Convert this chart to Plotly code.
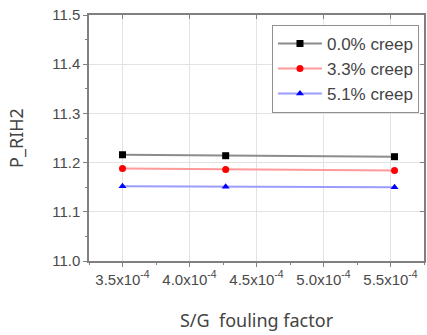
import plotly.graph_objects as go

fouling = [3.5e-4, 4.27e-4, 5.53e-4]
creep_00 = [11.216, 11.214, 11.212]
creep_33 = [11.188, 11.186, 11.184]
creep_51 = [11.152, 11.151, 11.150]
names = ["0.0% creep", "3.3% creep", "5.1% creep"]
tick_vals = [3.5e-4, 4.0e-4, 4.5e-4, 5.0e-4, 5.5e-4]
tick_text = ["3.5x10<sup>-4</sup>", "4.0x10<sup>-4</sup>", "4.5x10<sup>-4</sup>",
             "5.0x10<sup>-4</sup>", "5.5x10<sup>-4</sup>"]

fig = go.Figure()
styles = [
    (creep_00, "#8c8c8c", "black", "square"),
    (creep_33, "#ff9a9a", "red", "circle"),
    (creep_51, "#9c9cff", "blue", "triangle-up"),
]
for (ys, lc, mc, sym), nm in zip(styles, names):
    fig.add_trace(go.Scatter(
        x=fouling, y=ys, name=nm, mode="lines+markers",
        line=dict(color=lc, width=2),
        marker=dict(color=mc, symbol=sym, size=7),
    ))
# invisible trace to activate mirrored inside-tick axes
fig.add_trace(go.Scatter(x=fouling, y=creep_00, xaxis="x2", yaxis="y2", mode="markers",
                         marker=dict(opacity=0), showlegend=False, hoverinfo="skip"))

tick_font = dict(family="Arial, Liberation Sans", size=15, color="#4a4a4a")
axis_common = dict(
    showline=True, linecolor="#808080", linewidth=1.5, mirror=True,
    ticks="outside", tickcolor="#808080", ticklen=4,
    showgrid=True, gridcolor="#e3e3e3", gridwidth=1, zeroline=False,
    tickfont=tick_font, automargin=False,
)
fig.update_layout(
    xaxis=dict(
        range=[3.25e-4, 5.75e-4], tickvals=tick_vals, ticktext=tick_text,
        minor=dict(ticks="outside", ticklen=2, tickcolor="#808080", dtick=0.25e-4, tick0=3.25e-4, showgrid=False),
        title=dict(text="S/G  fouling factor", font=dict(family="Noto Sans", size=18, color="#444444"), standoff=28),
        **axis_common,
    ),
    yaxis=dict(
        range=[11.0, 11.5], dtick=0.1, tickformat=".1f",
        minor=dict(ticks="outside", ticklen=2, tickcolor="#808080", dtick=0.05, showgrid=False),
        title=dict(text="P_RIH2", font=dict(family="Noto Sans", size=18, color="#444444"), standoff=24),
        **axis_common,
    ),
    xaxis2=dict(overlaying="x", side="top", range=[3.25e-4, 5.75e-4], ticks="inside", ticklen=4,
                tickcolor="#808080", tickvals=tick_vals, showticklabels=False,
                showgrid=False, showline=False, zeroline=False, automargin=False),
    yaxis2=dict(overlaying="y", side="right", range=[11.0, 11.5], ticks="inside", ticklen=4,
                tickcolor="#808080", dtick=0.1, showticklabels=False,
                showgrid=False, showline=False, zeroline=False, automargin=False),
    width=427, height=335,
    margin=dict(l=89, r=3, t=15, b=74),
    plot_bgcolor="white", paper_bgcolor="white",
    legend=dict(
        x=0.985, y=0.96, xanchor="right", yanchor="top",
        bordercolor="#909090", borderwidth=1, bgcolor="white",
        font=dict(family="Arial, Liberation Sans", size=17, color="#444444"),
        tracegroupgap=0, itemwidth=44,
    ),
)
fig.write_html("out.html", config={"displayModeBar": False},
               post_script="document.body.style.margin='0';")
